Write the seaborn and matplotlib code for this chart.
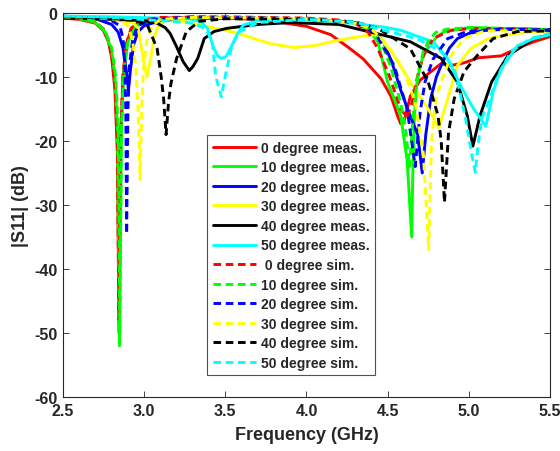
import matplotlib
matplotlib.use('Agg')
import matplotlib.pyplot as plt
import seaborn as sns

f_m0 = [2.5, 2.6, 2.7, 2.75, 2.78, 2.8, 2.82, 2.835, 2.845, 2.855, 2.87, 2.89, 2.92, 2.97, 3.1, 3.4, 3.7, 3.85, 4.0, 4.15, 4.27, 4.35, 4.46, 4.52, 4.56, 4.58, 4.6, 4.64, 4.7, 4.765, 4.83, 4.89, 4.97, 5.06, 5.2, 5.3, 5.4, 5.5]
s_m0 = [-0.8, -1.0, -1.6, -2.8, -4.5, -7.0, -12.0, -22.0, -50.0, -20.0, -10.0, -5.0, -2.5, -1.3, -0.8, -0.7, -1.0, -1.5, -2.1, -3.4, -5.6, -7.2, -10.3, -13.0, -16.0, -17.3, -17.0, -13.0, -10.5, -9.2, -7.9, -8.2, -7.8, -7.0, -6.7, -5.5, -4.5, -3.7]

f_m10 = [2.5, 2.6, 2.7, 2.76, 2.8, 2.82, 2.835, 2.848, 2.86, 2.875, 2.9, 2.95, 3.05, 3.5, 4.0, 4.3, 4.38, 4.44, 4.5, 4.58, 4.62, 4.648, 4.655, 4.665, 4.68, 4.7, 4.73, 4.765, 4.8, 4.85, 5.0, 5.2, 5.5]
s_m10 = [-0.7, -0.9, -1.5, -3.0, -6.0, -10.0, -18.0, -52.0, -18.0, -9.0, -4.5, -2.0, -1.0, -0.8, -1.0, -1.5, -2.5, -4.5, -10.8, -16.0, -23.0, -35.0, -25.0, -16.0, -11.0, -8.2, -6.0, -5.0, -3.8, -2.9, -2.3, -2.4, -2.6]

f_m20 = [2.5, 2.7, 2.8, 2.84, 2.87, 2.89, 2.903, 2.915, 2.935, 2.96, 3.0, 3.1, 3.3, 4.0, 4.3, 4.4, 4.475, 4.53, 4.58, 4.63, 4.685, 4.713, 4.735, 4.765, 4.8, 4.83, 4.88, 4.93, 5.0, 5.1, 5.3, 5.5]
s_m20 = [-0.6, -0.9, -1.8, -3.0, -5.5, -9.0, -12.0, -9.0, -5.0, -3.0, -2.0, -1.2, -0.8, -1.0, -1.5, -2.5, -4.5, -8.0, -12.0, -15.5, -19.0, -25.0, -19.0, -13.4, -10.0, -8.2, -5.5, -4.0, -3.2, -2.7, -2.5, -2.6]

f_m30 = [2.5, 2.8, 2.93, 2.963, 2.994, 3.017, 3.04, 3.06, 3.08, 3.12, 3.16, 3.35, 3.57, 3.65, 3.78, 3.92, 4.05, 4.19, 4.3, 4.4, 4.44, 4.54, 4.64, 4.75, 4.815, 4.87, 4.93, 5.01, 5.12, 5.28, 5.5]
s_m30 = [-0.7, -1.0, -1.5, -2.4, -7.1, -10.0, -7.1, -4.0, -2.4, -1.3, -0.9, -1.9, -3.1, -3.8, -4.8, -5.4, -5.1, -4.3, -3.8, -3.4, -3.5, -6.7, -10.8, -15.0, -17.9, -13.4, -8.2, -5.6, -4.0, -3.2, -2.8]

f_m40 = [2.5, 2.8, 3.0, 3.08, 3.13, 3.16, 3.2, 3.24, 3.278, 3.3, 3.33, 3.37, 3.43, 3.51, 3.7, 3.9, 4.2, 4.38, 4.64, 4.83, 4.93, 4.99, 5.025, 5.07, 5.14, 5.24, 5.4, 5.5]
s_m40 = [-0.8, -1.0, -1.2, -1.6, -2.3, -3.2, -5.3, -7.6, -9.0, -8.4, -7.1, -4.0, -2.9, -2.4, -1.8, -1.5, -1.8, -2.9, -4.5, -7.1, -10.8, -16.0, -20.8, -16.0, -10.8, -6.7, -4.0, -3.4]

f_m50 = [2.5, 2.8, 3.1, 3.28, 3.35, 3.39, 3.43, 3.455, 3.48, 3.505, 3.53, 3.57, 3.61, 3.7, 3.9, 4.17, 4.475, 4.58, 4.78, 4.87, 4.95, 5.03, 5.105, 5.15, 5.2, 5.3, 5.4, 5.5]
s_m50 = [-0.5, -0.6, -0.8, -0.9, -1.4, -2.4, -5.6, -6.8, -7.1, -6.8, -5.6, -3.5, -1.9, -1.2, -1.0, -1.3, -2.2, -2.7, -4.5, -7.1, -11.4, -15.0, -17.7, -12.3, -8.7, -5.1, -4.0, -3.4]

f_s0 = [2.5, 2.6, 2.7, 2.75, 2.78, 2.8, 2.82, 2.835, 2.845, 2.855, 2.87, 2.89, 2.92, 2.97, 3.1, 3.5, 4.0, 4.2, 4.3, 4.38, 4.44, 4.51, 4.58, 4.62, 4.65, 4.685, 4.72, 4.78, 4.89, 5.03, 5.3, 5.5]
s_s0 = [-0.6, -0.8, -1.4, -2.5, -4.2, -6.5, -11.0, -20.0, -48.0, -19.0, -9.5, -4.8, -2.4, -1.2, -0.7, -0.6, -0.8, -1.1, -1.6, -3.0, -5.6, -9.8, -15.0, -16.3, -14.0, -9.8, -6.7, -4.0, -2.7, -2.4, -2.5, -2.8]

f_s10 = [2.5, 2.6, 2.7, 2.76, 2.8, 2.825, 2.84, 2.85, 2.86, 2.875, 2.9, 2.95, 3.05, 3.5, 4.0, 4.3, 4.4, 4.46, 4.52, 4.58, 4.61, 4.635, 4.66, 4.69, 4.72, 4.76, 4.8, 4.87, 5.0, 5.5]
s_s10 = [-0.6, -0.8, -1.4, -2.8, -5.5, -10.0, -18.0, -50.0, -18.0, -9.0, -4.5, -2.0, -1.0, -0.7, -0.9, -1.4, -2.5, -4.5, -8.5, -14.0, -18.0, -24.0, -15.0, -9.0, -6.0, -4.0, -3.0, -2.5, -2.3, -2.6]

f_s20 = [2.5, 2.7, 2.8, 2.85, 2.87, 2.88, 2.887, 2.892, 2.9, 2.91, 2.93, 2.96, 3.05, 3.3, 4.0, 4.3, 4.42, 4.54, 4.62, 4.67, 4.7, 4.73, 4.78, 4.87, 4.99, 5.2, 5.5]
s_s20 = [-0.5, -0.8, -1.2, -2.0, -4.0, -8.0, -15.0, -34.5, -15.0, -8.0, -4.0, -2.0, -1.0, -0.6, -0.9, -1.5, -3.0, -8.2, -15.0, -24.0, -15.5, -10.8, -7.2, -4.0, -2.9, -2.5, -2.7]

f_s30 = [2.5, 2.7, 2.85, 2.9, 2.93, 2.95, 2.962, 2.975, 2.985, 2.995, 3.015, 3.05, 3.1, 3.3, 4.0, 4.3, 4.4, 4.5, 4.6, 4.67, 4.72, 4.753, 4.77, 4.8, 4.83, 4.89, 4.97, 5.1, 5.5]
s_s30 = [-0.6, -0.8, -1.0, -2.0, -4.5, -9.0, -15.0, -26.0, -15.0, -9.0, -4.5, -2.0, -1.0, -0.7, -0.9, -1.6, -2.5, -5.0, -9.0, -14.0, -22.0, -37.0, -20.0, -13.0, -10.8, -6.7, -4.0, -2.8, -2.8]

f_s40 = [2.5, 2.8, 2.95, 3.02, 3.08, 3.105, 3.12, 3.135, 3.15, 3.165, 3.2, 3.26, 3.34, 3.5, 4.0, 4.3, 4.44, 4.64, 4.75, 4.81, 4.83, 4.85, 4.875, 4.91, 4.97, 5.05, 5.15, 5.3, 5.5]
s_s40 = [-0.6, -0.8, -1.2, -1.9, -5.6, -10.0, -13.4, -19.0, -14.0, -11.0, -7.1, -2.9, -1.3, -0.9, -1.0, -1.4, -2.4, -5.6, -10.8, -16.0, -20.0, -29.6, -18.7, -13.4, -9.2, -6.7, -4.0, -2.9, -2.8]

f_s50 = [2.5, 2.8, 3.16, 3.3, 3.38, 3.42, 3.44, 3.475, 3.5, 3.54, 3.59, 3.7, 4.0, 4.3, 4.475, 4.68, 4.83, 4.91, 4.94, 4.98, 5.02, 5.04, 5.06, 5.08, 5.12, 5.18, 5.26, 5.38, 5.5]
s_s50 = [-0.5, -0.7, -1.3, -1.6, -2.5, -4.5, -9.8, -13.1, -9.8, -5.1, -2.9, -1.5, -1.0, -1.4, -2.7, -4.0, -6.0, -8.7, -11.8, -16.5, -22.4, -24.9, -20.0, -16.5, -14.0, -9.8, -6.0, -4.0, -3.2]

angles = [0, 10, 20, 30, 40, 50]
colors = ['#ff0000', '#00ff00', '#0000ff', '#ffff00', '#000000', '#00ffff']
meas = [(f_m0, s_m0), (f_m10, s_m10), (f_m20, s_m20), (f_m30, s_m30), (f_m40, s_m40), (f_m50, s_m50)]
sims = [(f_s0, s_s0), (f_s10, s_s10), (f_s20, s_s20), (f_s30, s_s30), (f_s40, s_s40), (f_s50, s_s50)]

sns.set_theme(style='ticks')
plt.rcParams['font.family'] = ['Liberation Sans', 'DejaVu Sans']
plt.rcParams['axes.unicode_minus'] = False

fig = plt.figure(figsize=(5.6, 4.52), dpi=100)
ax = fig.add_axes([0.1125, 0.1195, 0.8696, 0.8496])

for a, c, (f, s) in zip(angles, colors, meas):
    sns.lineplot(x=f, y=s, ax=ax, color=c, lw=2.1, sort=False, estimator=None,
                 label=f'{a} degree meas.')
for a, c, (f, s) in zip(angles, colors, sims):
    sns.lineplot(x=f, y=s, ax=ax, color=c, lw=2.1, sort=False, estimator=None,
                 linestyle=(0, (2.6, 1.6)), label=f' {a} degree sim.' if a == 0 else f'{a} degree sim.')

ax.set_xlim(2.5, 5.5)
ax.set_ylim(-60, 0)
ax.set_xticks([2.5, 3.0, 3.5, 4.0, 4.5, 5.0, 5.5])
ax.set_xticklabels(['2.5', '3.0', '3.5', '4.0', '4.5', '5.0', '5.5'])
ax.set_yticks([-60, -50, -40, -30, -20, -10, 0])
ax.tick_params(direction='in', top=True, right=True, length=4, width=0.6,
               labelsize=11.5, colors='#262626', pad=4)
for lab in ax.get_xticklabels() + ax.get_yticklabels():
    lab.set_fontweight('bold')
for sp in ax.spines.values():
    sp.set_color('#262626')
    sp.set_linewidth(0.8)

ax.set_xlabel('Frequency (GHz)', fontsize=13, fontweight='bold', color='#262626', labelpad=6)
ax.set_ylabel('|S11| (dB)', fontsize=13, fontweight='bold', color='#262626', labelpad=4)

leg = ax.legend(loc='upper left', bbox_to_anchor=(0.296, 0.682),
                prop={'weight': 'bold', 'size': 10}, frameon=True, fancybox=False,
                handlelength=3.1, handletextpad=0.35, labelspacing=0.4,
                borderpad=0.4, borderaxespad=0)
leg.get_frame().set_edgecolor('#262626')
leg.get_frame().set_linewidth(0.8)

fig.savefig('out.png', dpi=100)
